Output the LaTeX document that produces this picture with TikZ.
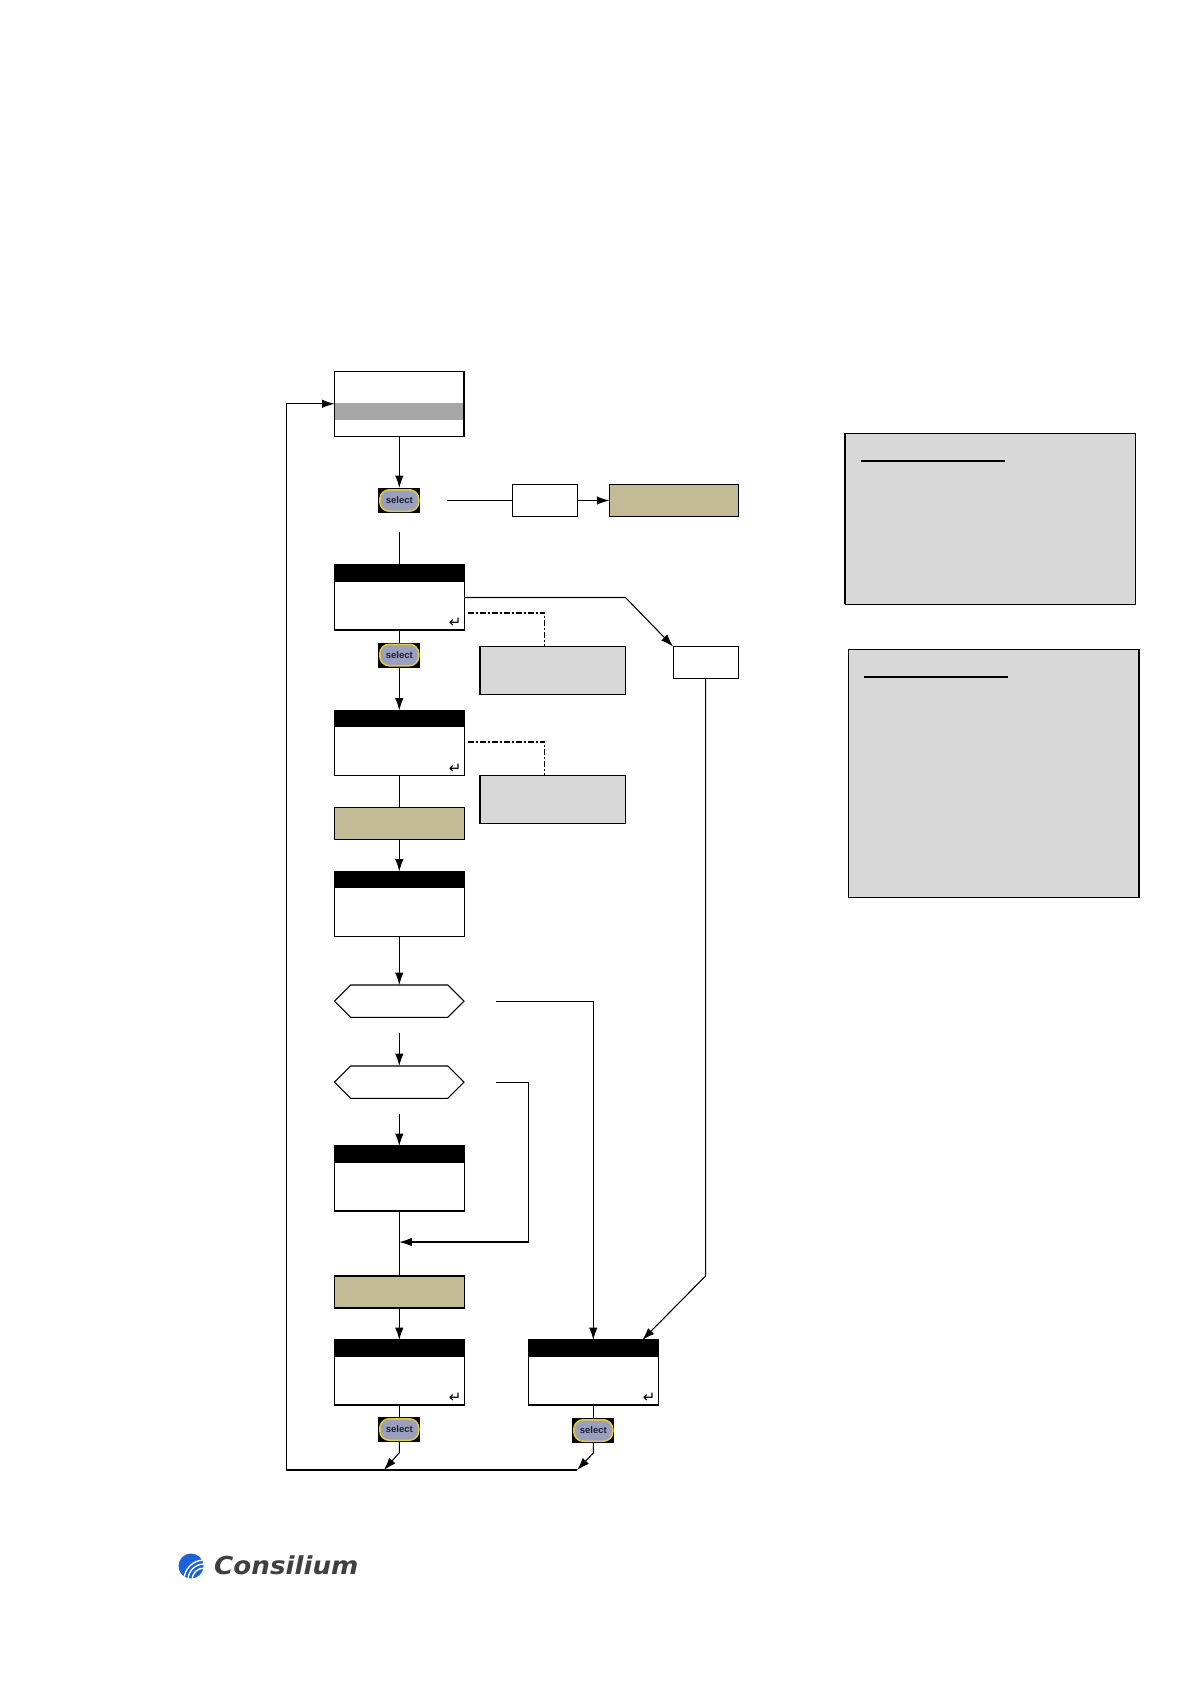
\documentclass[tikz,border=0pt]{standalone}
\usepackage{fontspec}
\setmainfont{Liberation Sans}
\newfontfamily\symfont{DejaVu Sans}
\usepackage{tikz}
\usetikzlibrary{arrows.meta,positioning,calc,shapes.symbols}
\definecolor{khaki}{HTML}{C2BB96}
\definecolor{pale}{HTML}{D8D8D8}
\definecolor{midgrey}{HTML}{A6A6A6}
\definecolor{pillblue}{HTML}{9AA0BC}
\definecolor{pillrim}{HTML}{E6CC3C}
\definecolor{pillink}{HTML}{1E2038}
\definecolor{logoblue}{HTML}{1C62D8}
\definecolor{logoink}{HTML}{3F4042}
\tikzset{plain/.style={draw=black,line width=1.1pt,inner sep=0pt,outer sep=0pt},
         screen/.style={plain,fill=white,minimum width=129.5pt,minimum height=65pt},
         small/.style={plain,fill=white,minimum width=65pt,minimum height=32pt},
         tan/.style={plain,fill=khaki,minimum width=129.5pt,minimum height=32pt},
         hint/.style={plain,fill=pale,minimum width=145.5pt,minimum height=48pt},
         note/.style={plain,fill=pale,minimum width=290.4pt},
         hexa/.style={plain,fill=white,shape=signal,signal to=east and west,signal pointer angle=90,minimum width=129.5pt,minimum height=32.3pt},
         band/.style={inner sep=0pt,outer sep=0pt,minimum width=129.5pt,minimum height=16.5pt,fill=black},
         keyback/.style={inner sep=0pt,outer sep=0pt,fill=black,minimum width=42pt,minimum height=25pt},
         keypill/.style={inner sep=0pt,outer sep=0pt,draw=pillrim,line width=1.5pt,fill=pillblue,rounded corners=9.5pt,minimum width=39pt,minimum height=21.5pt,text=pillink,font=\fontsize{9.5}{9.5}\selectfont\bfseries},
         retmark/.style={inner sep=0pt,outer sep=0pt,font=\fontsize{15}{15}\selectfont\symfont},
         flow/.style={-{Latex[length=12.5pt,width=8.5pt]},line width=1.1pt},
         link/.style={line width=1.1pt},
         dotlink/.style={line width=1.1pt,dash pattern=on 6pt off 2pt on 2pt off 2pt},
         headrule/.style={line width=1.7pt},
         heavy/.style={line width=2.2pt}}
\begin{document}
\begin{tikzpicture}[x=1pt,y=1pt]
\useasboundingbox (0,0) rectangle (1190,-1684);
\fill[white] (0,0) rectangle (1190,-1684);
% main column
\node[screen] (menu) at (399.3,-403.8) {};
\node[band,fill=midgrey,minimum width=128pt,below=31.7pt of menu.north] (menubar) {};
\node[keyback, below=51.7pt of menu] (key1) {};
\node[small, right=92.5pt of key1] (ask1) {};
\node[tan, right=31.5pt of ask1] (act1) {};
\node[screen, below=52pt of key1] (scr2) {};
\node[keyback, below=12.5pt of scr2] (key2) {};
\node[screen, below=43pt of key2] (scr3) {};
\node[tan, below=32pt of scr3] (act2) {};
\node[screen, below=32pt of act2] (scr4) {};
\node[hexa, below=48.5pt of scr4] (dec1) {};
\node[hexa, below=48.7pt of dec1] (dec2) {};
\node[screen, below=47.7pt of dec2] (scr5) {};
\node[tan, below=65pt of scr5] (act3) {};
\node[screen, below=32pt of act3] (scr6) {};
\node[screen, right=64.5pt of scr6] (scr7) {};
\node[keyback, below=12pt of scr6] (key3) {};
\node[keyback, below=13pt of scr7] (key4) {};
% side boxes
\node[hint, below right=16.5pt and 15.9pt of scr2.south east] (hint1) {};
\node[hint, below right=0pt and 15.9pt of scr3.south east] (hint2) {};
\node[small, below right=16.5pt and 209pt of scr2.south east] (ask2) {};
\node[note,minimum height=171pt,anchor=north west] (noteA) at (845.3,-433.3) {};
\node[note,line width=1.6pt,minimum height=248pt,below=45pt of noteA,xshift=3pt] (noteB) {};
% bands and keys
\foreach \b in {scr2,scr3,scr4,scr5,scr6,scr7}
  \node[band, below=0pt of \b.north] (\b bar) {};
\foreach \b in {scr2,scr3,scr6,scr7}
  \node[retmark, above left=2.5pt and 2.5pt of \b.south east] (\b ret) {^^^^21b5};
\foreach \k in {key1,key2,key3,key4}
  \node[keypill] (\k txt) at (\k) {select};
% free ends
\coordinate[below=19pt of key1] (key1out);
\coordinate[right=27pt of key1] (key1side);
\coordinate (bend1) at (hint1.north east |- scr2.east);
\coordinate (dash1) at ($(scr2.east)+(3.7,-15.5)$);
\coordinate (dash2) at ($(scr3.east)+(3.7,1)$);
\coordinate (bend2) at (ask2.south |- act3.north);
\coordinate[below=16pt of dec1] (dec1out);
\coordinate[below=16pt of dec2] (dec2out);
\coordinate[right=31.7pt of dec1.east] (dec1side);
\coordinate[right=31.7pt of dec2.east] (dec2side);
\coordinate[below=31pt of scr5] (join5);
\coordinate[below=10.7pt of key3] (drop3);
\coordinate[below=10pt of key4] (drop4);
\coordinate (loop4) at ($(drop4)+(-16.2,-17)$);
\coordinate (loop3) at ($(drop3 |- loop4)+(-15.3,0)$);
\coordinate (corner) at (286.7,0 |- loop4);
% connectors
\draw[flow] (menu) -- (key1);
\draw[link] (key1out) -- (scr2);
\draw[link] (key1side) -- (ask1);
\draw[flow] (ask1) -- (act1);
\draw[link] (scr2) -- (key2);
\draw[flow] (key2) -- (scr3);
\draw[flow] (scr2.east) -- (bend1) -- (ask2.north west);
\draw[dotlink] (dash1) -| ($(hint1.north)+(-8.2,0)$);
\draw[dotlink] (dash2) -| ($(hint2.north)+(-8.2,0)$);
\draw[link] (scr3) -- (act2);
\draw[flow] (act2) -- (scr4);
\draw[flow] (scr4) -- (dec1);
\draw[flow] (dec1out) -- (dec2);
\draw[flow] (dec2out) -- (scr5);
\draw[link] (scr5) -- (act3);
\draw[flow] (act3) -- (scr6);
\draw[flow] (dec1side) -| (scr7.north);
\draw[flow] (dec2side) -| (join5 -| scr7.west) -- (join5);
\draw[flow] (ask2.south) -- (bend2) -- ($(scr7.north)+(49,0)$);
\draw[link] (scr6) -- (key3);
\draw[link] (scr7) -- (key4);
\draw[flow] (key3) -- (drop3) -- (loop3);
\draw[flow] (key4) -- (drop4) -- (loop4);
\draw[flow] (loop4) -- (corner) |- (menu.west);
% heavier edges
\draw[heavy] (noteA.north west) -- (noteA.south west);
\draw[heavy] (menu.north east) -- (menu.south east);
% header rules
\draw[headrule] ($(noteA.north west)+(15.7,-27.7)$) -- ++(144,0);
\draw[headrule] ($(noteB.north west)+(15.7,-27.7)$) -- ++(144,0);
% logo
\fill[logoblue] (191,-1566) circle (12.5);
\begin{scope}
\clip (191,-1566) circle (12.5);
\foreach \r in {12,16,20}
  \draw[white,line width=1.4pt] (204,-1580) circle (\r);
\end{scope}
\node[anchor=west,inner sep=0pt,text=logoink,xscale=1.06,font=\fontsize{24.7}{25}\selectfont\symfont\bfseries\itshape] (logo) at (214,-1565) {Consilium};
\end{tikzpicture}
\end{document}
